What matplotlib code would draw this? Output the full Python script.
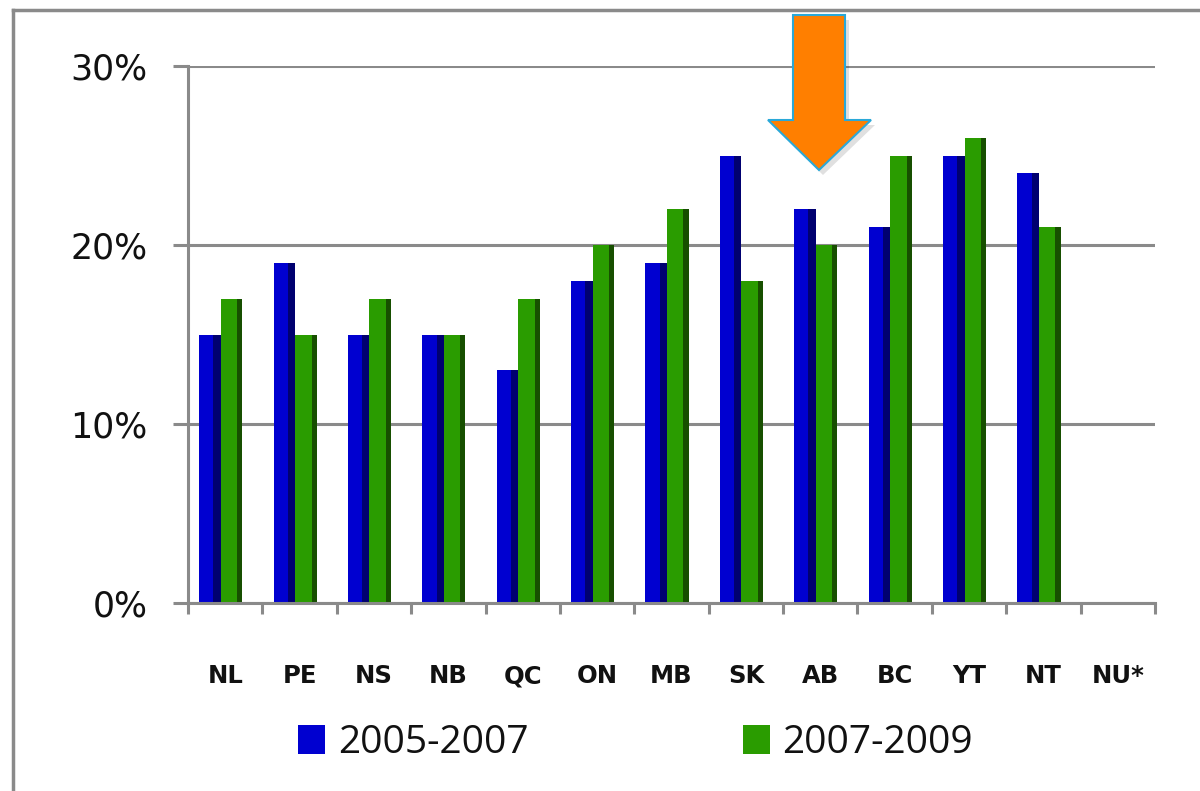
import matplotlib
matplotlib.use("Agg")
import matplotlib.pyplot as plt
from matplotlib.patches import Polygon
from matplotlib.lines import Line2D
import numpy as np

categories = ["NL", "PE", "NS", "NB", "QC", "ON", "MB", "SK", "AB", "BC", "YT", "NT", "NU*"]
series_2005_2007 = [15, 19, 15, 15, 13, 18, 19, 25, 22, 21, 25, 24, np.nan]
series_2007_2009 = [17, 15, 17, 15, 17, 20, 22, 18, 20, 25, 26, 21, np.nan]
series_names = ["2005-2007", "2007-2009"]
y_ticks = [0, 10, 20, 30]
y_tick_labels = ["0%", "10%", "20%", "30%"]

W, H = 1200, 791
fig = plt.figure(figsize=(W / 100, H / 100), dpi=100)
fig.patch.set_facecolor("white")

ax = fig.add_axes([188 / W, 1 - 603 / H, (1155 - 188) / W, (603 - 66) / H])
grey = "#8a8a8a"

x = np.arange(len(categories)) + 0.5
bw = 0.29
off_blue = -0.205
off_green = 0.085

blue_main, blue_dark = "#0000d0", "#000070"
green_main, green_dark = "#2a9c00", "#174f00"

b1 = ax.bar(x + off_blue, series_2005_2007, width=bw, color=blue_main, zorder=3,
            label=series_names[0])
ax.bar(x + off_blue + bw * 0.33, series_2005_2007, width=bw * 0.34, color=blue_dark, zorder=3.1)
b2 = ax.bar(x + off_green, series_2007_2009, width=bw, color=green_main, zorder=3,
            label=series_names[1])
ax.bar(x + off_green + bw * 0.38, series_2007_2009, width=bw * 0.24, color=green_dark, zorder=3.1)

ax.set_xlim(0, len(categories))
ax.set_ylim(0, 30)
ax.set_yticks(y_ticks)
ax.set_yticklabels(y_tick_labels, fontsize=25, family="DejaVu Sans", color="#111111")
ax.tick_params(axis="y", length=11, width=2.2, color=grey, direction="out", pad=18)
ax.yaxis.grid(True, color=grey, linewidth=2.2, zorder=1)

ax.set_xticks(np.arange(len(categories) + 1))
ax.set_xticklabels([])
ax.set_xticks(x, minor=True)
ax.set_xticklabels(categories, minor=True, fontsize=17.5, fontweight="bold",
                   family="DejaVu Sans", color="#111111")
ax.tick_params(axis="x", which="major", length=8, width=2.2, color=grey, direction="out")
ax.tick_params(axis="x", which="minor", length=0, pad=44)

for s in ["top", "right"]:
    ax.spines[s].set_visible(False)
for s in ["left", "bottom"]:
    ax.spines[s].set_color(grey)
    ax.spines[s].set_linewidth(2.2)
    ax.spines[s].set_zorder(4)

leg = ax.legend(handles=[b1, b2], loc="center left",
                bbox_to_anchor=(298 / W, 1 - 743 / H), bbox_transform=fig.transFigure,
                ncol=2, frameon=False, borderpad=0, borderaxespad=0,
                prop={"family": "Open Sans", "size": 28},
                handlelength=0.7, handleheight=0.75, handletextpad=0.33,
                columnspacing=5.5)
for t in leg.get_texts():
    t.set_color("#111111")

# outer frame
fig.add_artist(Line2D([13 / W, 13 / W], [0, 1 - 10 / H], color=grey, linewidth=2.5,
                      transform=fig.transFigure))
fig.add_artist(Line2D([13 / W, 1], [1 - 10 / H, 1 - 10 / H], color=grey, linewidth=2.5,
                      transform=fig.transFigure))

# orange arrow annotation (pixel coordinates converted to figure fraction)
arrow_px = [(793, 15), (845, 15), (845, 120), (871, 120), (819, 170),
            (768, 120), (793, 120)]
shadow = Polygon([((px + 4) / W, 1 - (py + 5) / H) for px, py in arrow_px],
                 closed=True, transform=fig.transFigure, facecolor="#000000",
                 alpha=0.12, edgecolor="none", zorder=9)
arrow = Polygon([(px / W, 1 - py / H) for px, py in arrow_px], closed=True,
                transform=fig.transFigure, facecolor="#ff7f00", edgecolor="#2aa8d8",
                linewidth=1.5, zorder=10)
fig.add_artist(shadow)
fig.add_artist(arrow)

fig.savefig("out.png", dpi=100, facecolor="white")
